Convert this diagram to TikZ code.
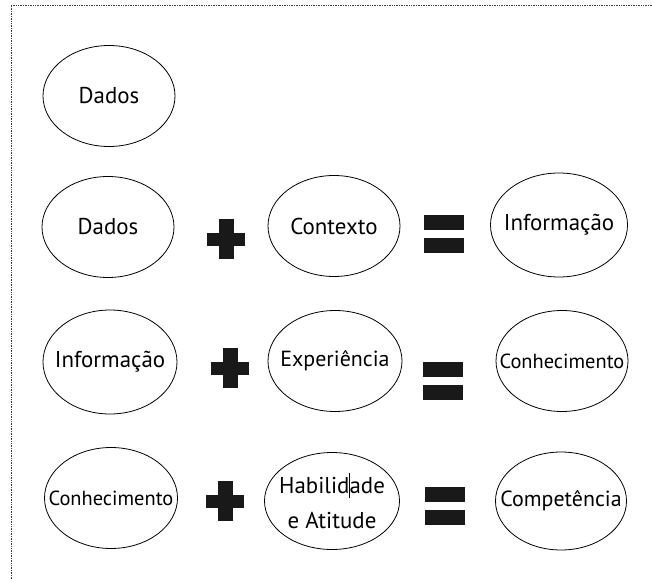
\documentclass[tikz,border=0pt]{standalone}
\usepackage{fontspec}
\setmainfont{PT Sans}
\usetikzlibrary{shapes.geometric, positioning}

\newcommand{\rotulo}[1]{\makebox[0pt]{#1}}

\begin{document}
\begin{tikzpicture}[x=1bp, y=-1bp]

	\tikzset{balao/.style={
			ellipse, draw=black, line width=0.8pt,
			minimum width=#1, minimum height=101bp,
			inner sep=0pt, align=center,
			font=\fontsize{23}{35}\selectfont
		},
		balao/.default=132bp,
		menor/.style={font=\fontsize{#1}{35}\selectfont},
		mais/.style={
			minimum width=38bp, minimum height=40bp, inner sep=0pt,
			path picture={
				\fill[black!90] ([xshift=-19bp, yshift=6.5bp]path picture bounding box.center) rectangle ++(38bp,-13bp);
				\fill[black!90] ([xshift=-7.5bp, yshift=20bp]path picture bounding box.center) rectangle ++(15bp,-40bp);
			}
		},
		igual/.style={
			minimum width=40bp, minimum height=38bp, inner sep=0pt,
			path picture={
				\fill[black!90] ([xshift=-20bp, yshift=19bp]path picture bounding box.center) rectangle ++(40bp,-15bp);
				\fill[black!90] ([xshift=-20bp, yshift=-4bp]path picture bounding box.center) rectangle ++(40bp,-15bp);
			}
		}
	}

	\useasboundingbox[fill=white] (0,0) rectangle (652,579);
	\draw[black!75, densely dotted, line width=0.7pt] (652,5) -- (11,5) -- (11,579);

	% linha 1
	\node[balao] (dados1) at (109,96) {\rotulo{Dados}};

	% linha 2
	\node[balao] (dados2) at (108,227) {\rotulo{Dados}};
	\node[mais] (mais2) at (226,239) {};
	\node[balao] (contexto) at (334,226) {\rotulo{Contexto}};
	\node[igual] (igual2) at (444,234) {};
	\node[balao=137bp, minimum height=104bp] (info2) at (559,225) {\rotulo{Informação}};

	% linha 3
	\node[balao=134bp, minimum height=104bp] (info3) at (110,362) {\rotulo{Informação}};
	\node[mais] (mais3) at (230,368) {};
	\node[balao=134bp, menor=22] (experiencia) at (335,361) {\rotulo{Experiência}};
	\node[igual] (igual3) at (443,381) {};
	\node[balao, menor=20.5] (conhec3) at (562,361) {\rotulo{Conhecimento}};

	% linha 4
	\node[balao=133bp, menor=20.5] (conhec4) at (111,498) {\rotulo{Conhecimento}};
	\node[mais] (mais4) at (225,501) {};
	\node[balao=135bp, minimum height=97bp] (habilidade) at (332,501)
		{\rotulo{Habilid\makebox[0pt]{\rule[-0.2em]{0.9pt}{1.1em}}ade}\\\rotulo{e Atitude}};
	\node[igual] (igual4) at (445,506) {};
	\node[balao=131bp, minimum height=98bp, menor=22] (competencia) at (561,501) {\rotulo{Competência}};

\end{tikzpicture}
\end{document}
